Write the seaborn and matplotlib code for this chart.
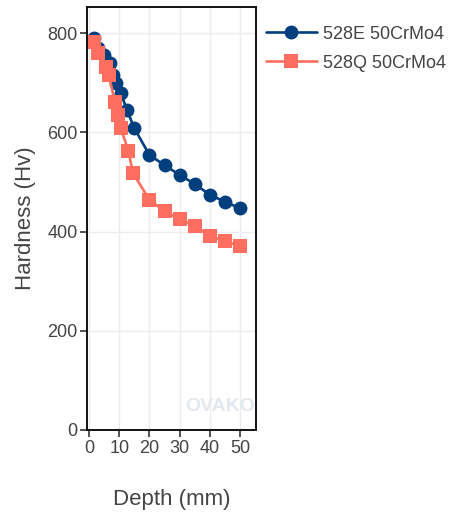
import numpy as np
import pandas as pd
import matplotlib
matplotlib.use('Agg')
import matplotlib.pyplot as plt
import seaborn as sns

# hardness profiles
depth_e = [1.5, 3, 5, 7, 8, 9, 10.5, 12.5, 15, 20, 25, 30, 35, 40, 45, 50]
hard_e = [790, 770, 755, 740, 715, 700, 680, 645, 608, 554, 534, 514, 496, 474, 460, 447]
depth_q = [1.5, 3, 5.5, 6.5, 8.5, 9.5, 10.5, 13, 14.5, 20, 25, 30, 35, 40, 45, 50]
hard_q = [783, 759, 732, 716, 662, 635, 608, 563, 518, 464, 441, 425, 411, 391, 381, 371]
series_names = ["528E 50CrMo4", "528Q 50CrMo4"]
colors = ["#003f7d", "#ff6e5e"]
markers = ["o", "s"]

sns.set_style("white")
plt.rcParams['font.family'] = ['Liberation Sans', 'DejaVu Sans']

fig = plt.figure(figsize=(4.56, 5.25), dpi=100)
ax = fig.add_axes([0.1915, 0.181, 0.3699, 0.806])

df_e = pd.DataFrame({"depth": depth_e, "hardness": hard_e})
df_q = pd.DataFrame({"depth": depth_q, "hardness": hard_q})
for df, name, c, m in zip([df_e, df_q], series_names, colors, markers):
    sns.lineplot(data=df, x="depth", y="hardness", ax=ax, color=c, marker=m,
                 markersize=10 if m == "o" else 10.5, markeredgewidth=0,
                 linewidth=1.9, label=name, sort=False, clip_on=False)

ax.set_xlim(-0.6, 55.3)
ax.set_ylim(0, 853)
ax.set_xticks([0, 10, 20, 30, 40, 50])
ax.set_yticks([0, 200, 400, 600, 800])
ax.grid(True, color="#ececec", linewidth=1)
ax.set_axisbelow(True)
for s in ax.spines.values():
    s.set_color("#111111")
    s.set_linewidth(1.4)
ax.tick_params(axis="both", which="both", direction="out", length=5, width=1.2,
               color="#333333", labelsize=13, labelcolor="#444444", pad=2,
               bottom=True, left=True)
ax.set_xlabel("Depth (mm)", fontsize=16, color="#444444", labelpad=23)
ax.set_ylabel("Hardness (Hv)", fontsize=16, color="#444444", labelpad=8)

ax.text(0.785, 0.055, "OVAKO", transform=ax.transAxes, ha="center", va="center",
        fontsize=14, fontweight="bold", color="#e2e8ef")

ax.legend(loc="upper left", bbox_to_anchor=(0.985, 0.985), frameon=False,
          fontsize=13, handlelength=2.8, labelcolor="#444444",
          borderaxespad=0.3, labelspacing=0.65, handletextpad=0.35)

fig.savefig("out.png", dpi=100)
